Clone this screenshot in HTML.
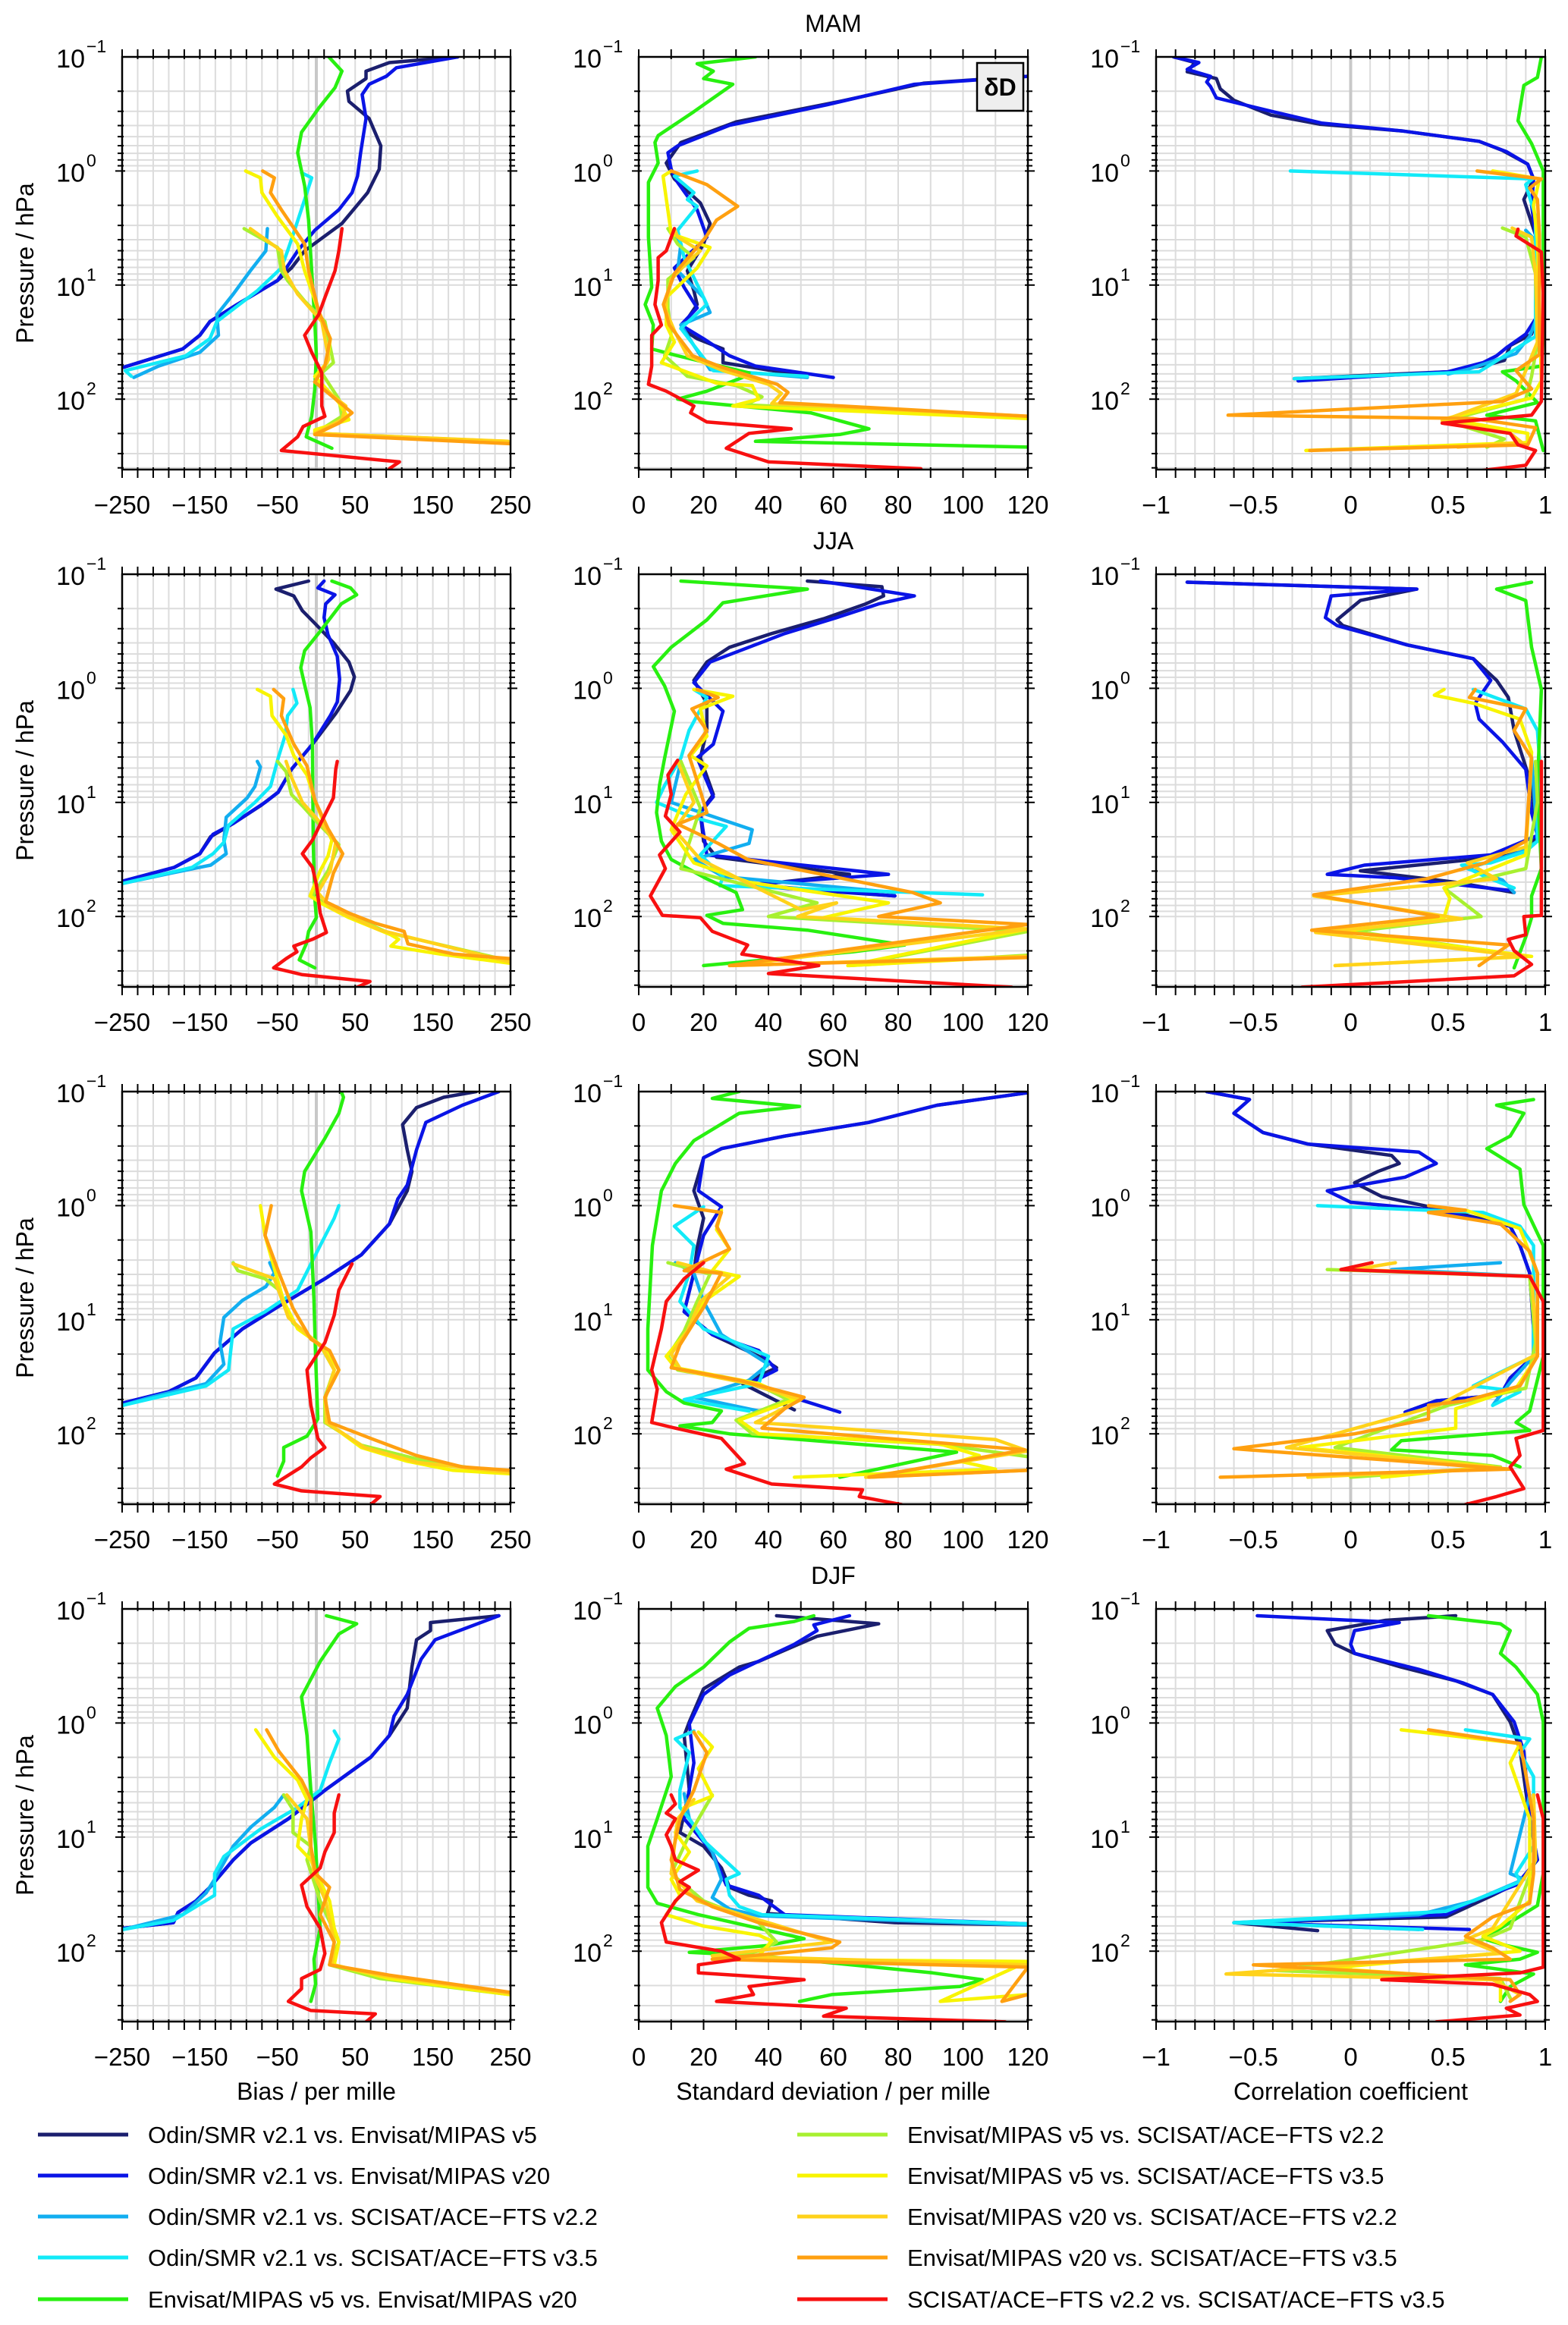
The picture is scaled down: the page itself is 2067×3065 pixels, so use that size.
<!DOCTYPE html>
<html><head><meta charset="utf-8"><title>δD seasonal comparison</title>
<style>
html,body{margin:0;padding:0;background:#fff;}
svg{display:block;font-family:"Liberation Sans",Arial,sans-serif;}
</style></head>
<body>
<svg id="fig" width="2067" height="3065" viewBox="0 0 2067 3065" xmlns="http://www.w3.org/2000/svg">
<g id="panels"></g>
<g id="legend"></g>
</svg>
<script>
// ---- series metadata ----
const seriesKeys = ['n','b','d','c','g','yg','y','go','o','r'];
const seriesLabels = ['Odin/SMR v2.1 vs. Envisat/MIPAS v5','Odin/SMR v2.1 vs. Envisat/MIPAS v20','Odin/SMR v2.1 vs. SCISAT/ACE\u2212FTS v2.2','Odin/SMR v2.1 vs. SCISAT/ACE\u2212FTS v3.5','Envisat/MIPAS v5 vs. Envisat/MIPAS v20','Envisat/MIPAS v5 vs. SCISAT/ACE\u2212FTS v2.2','Envisat/MIPAS v5 vs. SCISAT/ACE\u2212FTS v3.5','Envisat/MIPAS v20 vs. SCISAT/ACE\u2212FTS v2.2','Envisat/MIPAS v20 vs. SCISAT/ACE\u2212FTS v3.5','SCISAT/ACE\u2212FTS v2.2 vs. SCISAT/ACE\u2212FTS v3.5'];
const seriesColors = ['#1b1f6e','#0a14e6','#12aef0','#12eaf8','#28f010','#a8f030','#f8f400','#ffd21a','#ffa010','#f81010'];
const seasons = ['MAM','JJA','SON','DJF'];
const biasTicks = [-250,-150,-50,50,150,250];
const sdTicks = [0,20,40,60,80,100,120];
const corrTicks = [-1,-0.5,0,0.5,1];
const pressureDecades = [-1,0,1,2];

// ---- data: flat [log10(p/hPa), value, ...] ----
const MAM_BIAS = {
n:[-1,182,-.95,94,-.875,64,-.81,64,-.7,40,-.61,42,-.46,68,-.22,83,-.015,81,.19,66,.46,33,.70,-15,.85,-32,.96,-50,1.17,-102,1.32,-137,1.44,-150,1.56,-172,1.72,-248],
b:[-1,182,-.905,103,-.83,90,-.76,68,-.67,59,-.46,64,-.16,57,.045,53,.19,46,.34,29,.52,-2,.70,-24,.875,-41,.96,-50,1.17,-102,1.32,-137,1.44,-150,1.56,-172,1.72,-248],
d:[.505,-63,.70,-65,.875,-85,1.08,-107,1.26,-128,1.44,-126,1.59,-150,1.71,-203,1.81,-235],
c:[.015,-19,.06,-6,.25,-15,.52,-28,.70,-37,.85,-45,1.05,-76,1.32,-128,1.47,-137,1.62,-168,1.75,-246,1.80,-238],
g:[-1,16,-.875,33,-.73,24,-.55,3,-.34,-19,-.16,-24,.13,-15,.43,-10,.875,-6,1.32,-2,1.62,0,1.91,-2,2.15,-6,2.33,-13,2.43,20],
yg:[.505,-93,.67,-50,.875,-45,.96,-37,1.14,-15,1.32,11,1.68,22,1.77,7,2.0,29,2.15,33,2.3,-2,2.37,240],
y:[0,-91,.06,-72,.19,-70,.40,-50,.64,-24,.875,-15,1.23,3,1.47,18,1.68,14,1.80,-2,2.03,29,2.18,42,2.27,-2,2.31,-2,2.37,245],
go:[.505,-85,.70,-45,.875,-41,1.08,-24,1.32,7,1.65,16,1.85,-2,2.06,38,2.18,33,2.3,-2,2.37,247],
o:[0,-69,.06,-54,.19,-59,.34,-45,.64,-15,.875,-10,1.23,3,1.47,18,1.71,11,1.85,-2,2.12,46,2.21,29,2.31,-2,2.39,249],
r:[.505,33,.70,29,.875,24,1.11,11,1.26,3,1.44,-15,1.59,-6,1.77,7,2.06,7,2.15,11,2.24,-17,2.33,-24,2.45,-45,2.55,107,2.61,94]
};
const MAM_SD = {
n:[-.83,120,-.77,88,-.61,62,-.43,30,-.25,13,-.07,8.5,.07,11,.28,19,.46,22,.64,20,.875,15,1.05,17,1.17,18,1.38,13,1.47,18,1.56,26,1.68,26,1.80,52],
b:[-.83,120,-.76,85,-.58,58,-.40,28,-.22,12,-.16,9,-.015,10,.10,12,.34,18,.58,21,.85,11,1.02,14,1.20,18,1.35,13,1.47,20,1.62,28,1.71,36,1.81,60],
d:[.52,10,.64,13,.875,12,1.11,20,1.24,22,1.35,13,1.53,17,1.74,22,1.81,52],
c:[0,18,.045,11,.19,17,.25,15,.31,18,.52,12,.76,14,1.05,19,1.17,21,1.38,13,1.75,23,1.80,52],
g:[-1,36,-.94,18,-.875,23,-.81,20,-.76,29,-.52,17,-.31,6,-.25,5,-.07,6,.10,3,.58,3,1.02,4,1.17,2,1.35,4.5,1.56,4,1.62,12,1.77,34,1.81,32,1.93,21,2.0,12,2.02,16,2.12,53,2.26,71,2.31,62,2.37,36,2.42,120],
yg:[.505,9,.64,12,.76,17,.95,9,1.2,9,1.45,10,1.62,8,1.8,15,1.88,30,1.98,38,2.05,33,2.16,120],
y:[0,10,.045,7.5,.55,10,.67,22,.85,18,1.11,8.5,1.35,8.5,1.50,11,1.68,7,1.86,24,1.88,35,2.0,37,2.06,29,2.17,120],
go:[.505,11,.58,12,.70,19,.80,15,.95,10,1.2,8,1.4,11,1.62,15,1.75,26,1.87,40,1.95,44,2.04,41,2.15,120],
o:[0,10,.12,21,.31,30.5,.43,24,.58,20.7,.9,11,1.17,7.6,1.35,9.4,1.62,16.6,1.72,25.6,1.87,42.7,1.94,46,2.03,43.5,2.15,120],
r:[.505,11,.70,8.5,.76,6,.96,6,1.17,5,1.35,7,1.44,4,1.56,4,1.71,4,1.87,3,1.93,8.5,2.06,17,2.12,16,2.2,21,2.26,47,2.3,34,2.43,27,2.55,40,2.61,87]
};
const MAM_CORR = {
n:[-1,-.91,-.95,-.8,-.87,-.84,-.81,-.69,-.72,-.67,-.62,-.6,-.49,-.41,-.41,-.16,-.35,.27,-.26,.66,-.18,.78,-.06,.91,.07,.94,.25,.89,.56,.95,1.07,.96,1.27,.96,1.43,.93,1.53,.82,1.66,.79,1.7,.7,1.76,.5,1.82,-.29],
b:[-1,-.91,-.95,-.78,-.89,-.84,-.83,-.72,-.78,-.74,-.74,-.72,-.64,-.69,-.52,-.4,-.42,-.15,-.35,.27,-.26,.66,-.17,.80,-.06,.91,.07,.94,.3,.93,.56,.95,1.07,.96,1.27,.96,1.43,.9,1.55,.8,1.62,.75,1.68,.68,1.76,.5,1.84,-.27],
d:[.52,.9,.61,.95,1.0,.96,1.27,.96,1.45,.92,1.6,.85,1.74,.6,1.78,.5],
c:[0,-.31,.07,.935,.12,.9,.4,.95,1.07,.95,1.45,.95,1.76,.66,1.82,-.29],
g:[-1,.98,-.82,.96,-.75,.89,-.44,.86,-.24,.93,0,.99,1.45,.99,1.71,.98,1.76,.78,1.84,.85,2.03,.96,2.14,.7,2.19,.95,2.45,.99],
yg:[.5,.78,.58,.9,.9,.95,1.5,.96,1.8,.93,2.0,.9,2.19,.49,2.35,.79,2.42,.7],
y:[0,.73,.07,.97,.3,.94,.6,.96,1.2,.97,1.84,.98,1.99,.93,2.17,.49,2.3,.91,2.38,.91,2.45,-.23],
go:[.5,.83,.58,.93,.9,.95,1.5,.96,1.75,.9,1.95,.85,2.19,.47,2.3,.82,2.38,.88,2.42,.55],
o:[0,.65,.07,.98,.15,.92,.25,.96,.56,.97,1.61,.97,1.75,.85,1.91,.93,2.02,.78,2.14,-.63,2.17,.63,2.25,.95,2.4,.91,2.45,-.21],
r:[.51,.86,.57,.85,.71,.98,1.07,.99,2.02,.98,2.14,.93,2.21,.47,2.3,.82,2.4,.86,2.45,.95,2.58,.9,2.64,.6]
};
const JJA_BIAS = {
n:[-.94,-10,-.87,-52,-.81,-29,-.68,-18,-.57,-2,-.4,22,-.23,42,-.1,49,.02,44,.22,25,.49,-5,.71,-32,.91,-49,1.03,-72,1.18,-106,1.3,-136,1.45,-150,1.57,-183,1.69,-249],
b:[-.94,10,-.88,2,-.82,24,-.74,12,-.62,10,-.47,15,-.28,27,-.08,30,.12,27,.24,18,.49,-5,.71,-32,.91,-49,1.0,-66,1.18,-106,1.28,-133,1.45,-150,1.57,-183,1.69,-249],
d:[.64,-76,.69,-72,.86,-79,.96,-89,1.13,-116,1.33,-119,1.45,-116,1.55,-136,1.62,-187,1.71,-249],
c:[.01,-30,.13,-25,.24,-37,.41,-40,.61,-49,.86,-59,1.0,-79,1.2,-113,1.35,-119,1.45,-133,1.57,-160,1.71,-249],
g:[-.94,20,-.88,44,-.82,52,-.74,32,-.5,5,-.33,-15,-.18,-20,-.03,-15,.17,-8,.49,-5,1.35,-4,1.84,-2,2.01,0,2.13,-10,2.24,-13,2.38,-22,2.45,-2],
yg:[.64,-50,.73,-39,.93,-32,1.03,-18,1.18,2,1.37,29,1.6,15,1.82,-5,1.94,25,2.14,92,2.39,250],
y:[.01,-76,.07,-59,.24,-57,.41,-39,.59,-29,.76,-12,.98,-2,1.15,8,1.33,20,1.47,15,1.6,5,1.82,-8,1.89,8,2.01,42,2.16,96,2.2,106,2.26,96,2.33,160,2.41,250],
go:[.64,-39,.78,-32,1.0,-18,1.2,8,1.35,25,1.6,18,1.79,2,1.92,18,2.12,82,2.4,250],
o:[.01,-55,.09,-42,.24,-45,.49,-29,.68,-12,.98,-2,1.23,15,1.45,34,1.62,22,1.87,12,1.97,42,2.06,76,2.13,113,2.24,118,2.33,177,2.37,250],
r:[.64,27,.71,25,.96,22,1.15,8,1.33,-5,1.45,-18,1.57,-5,1.72,0,1.97,5,2.14,13,2.2,-5,2.26,-29,2.31,-25,2.37,-39,2.45,-55,2.51,-18,2.57,69,2.63,49]
};
const JJA_SD = {
n:[-.94,52,-.89,75,-.81,75.5,-.74,70,-.61,57,-.48,41,-.36,28,-.23,21,-.07,17,.13,21,.37,21,.61,19,.93,23,1.09,19,1.34,20,1.48,24,1.63,65,1.73,34,1.82,79],
b:[-.94,56,-.81,85,-.74,74,-.62,61,-.48,45,-.23,22,-.05,17,.2,26,.49,23,.61,18,.95,23,1.09,19,1.46,21,1.63,77,1.72,34,1.82,79],
d:[.64,13,1.0,10,1.24,35,1.36,34,1.5,17,1.65,26,1.79,79],
c:[.01,17,.08,21,.37,15.5,.61,13,.85,8,1.0,5.5,1.12,15.5,1.21,27,1.46,19,1.65,26,1.73,25,1.81,106],
g:[-.94,13,-.87,52,-.75,26,-.6,21,-.36,10,-.19,4.5,-.02,8,.2,11,.61,8,.85,6.4,1.09,5.5,1.34,7,1.5,10,1.67,21,1.79,30,1.94,32,1.99,21,2.06,26,2.12,52,2.25,82,2.31,66,2.43,20],
yg:[.64,13,1.05,19,1.58,13,1.88,55,2.0,40,2.13,120,2.43,65,2.34,120],
y:[.01,17,.07,29,.18,19,.42,21,.59,16,.68,21,.93,14.5,1.24,10,1.53,17,1.7,34,1.88,77,2.01,57,2.11,120,2.43,64.5,2.35,119],
go:[.64,12,1.0,17,1.24,11,1.5,19,1.94,50,1.88,61,2.0,49,2.11,120,2.43,29,2.35,120],
o:[.01,18,.08,24.5,.18,16.4,.37,21,.59,15.5,.9,19,1.09,21,1.19,12,1.36,24.5,1.5,33.6,1.79,84.5,1.88,93,2.0,74,2.07,120,2.43,28,2.36,120],
r:[.63,12,.76,9,.93,10,1.12,8.2,1.26,12.7,1.46,6.4,1.58,8.2,1.82,3.6,1.99,7.3,2.01,19,2.13,22.7,2.25,33.6,2.33,31.8,2.43,55.5,2.5,40,2.62,115]
};
const JJA_CORR = {
n:[-.93,-.84,-.87,.34,-.77,.05,-.6,-.07,-.55,-.04,-.38,.29,-.26,.63,-.07,.75,.08,.81,.37,.84,.85,.93,1.29,.96,1.43,.9,1.5,.63,1.6,.05,1.7,.54,1.79,.84],
b:[-.93,-.84,-.87,.34,-.81,-.1,-.62,-.13,-.55,-.07,-.38,.29,-.26,.63,-.07,.72,.13,.64,.27,.66,.47,.78,.71,.9,1.09,.93,1.29,.96,1.46,.72,1.55,.07,1.63,-.12,1.66,.23,1.77,.81],
d:[.61,.93,1.34,.96,1.43,.88,1.58,.6,1.68,.78,1.79,.84],
c:[.01,.63,.18,.9,.37,.96,.61,.97,1.34,.96,1.43,.9,1.53,.72,1.55,.57,1.65,.69,1.75,.84],
g:[-.93,.93,-.87,.75,-.77,.9,-.36,.93,.01,.98,.85,.96,1.58,.98,1.82,.93,2.01,.93,2.18,.9,2.45,.84],
yg:[.64,.95,1.0,.96,1.58,.9,1.75,.48,2.0,.67,2.13,.02,2.34,.87],
y:[.01,.48,.06,.43,.13,.63,.27,.87,.56,.93,1.46,.9,1.75,.48,1.84,.51,2.01,.48,2.13,-.04,2.35,.93,2.43,-.08],
go:[.64,.93,1.39,.9,1.53,.6,1.67,.75,1.82,-.19,2.02,.57,2.14,-.18,2.35,.9,2.43,-.08],
o:[.01,.64,.08,.61,.18,.9,.37,.84,.61,.93,1.34,.9,1.53,.69,1.67,.39,1.81,-.19,2.0,.45,2.12,-.2,2.25,.81,2.43,.66],
r:[.64,.98,1.99,.98,2.0,.89,2.16,.9,2.2,.81,2.3,.84,2.42,.93,2.52,.84,2.62,-.25]
};
const SON_BIAS = {
n:[-1,206,-.95,164,-.86,129,-.71,111,-.49,117,-.3,123,-.13,117,.16,94,.43,58,.64,11,.88,-48,1.08,-95,1.29,-131,1.51,-155,1.63,-190,1.73,-249],
b:[-1,235,-.88,188,-.73,141,-.49,129,-.18,117,-.06,105,.16,94,.43,58,.64,11,.88,-48,1.08,-95,1.29,-131,1.51,-155,1.63,-190,1.73,-249],
d:[.5,-60,.59,-54,.71,-65,.83,-95,.98,-119,1.2,-124,1.39,-119,1.56,-142,1.68,-213,1.75,-249],
c:[0,29,.11,23,.35,5,.74,-24,.93,-66,1.08,-107,1.44,-113,1.58,-142,1.75,-249],
g:[-1,32,-.95,35,-.81,29,-.59,11,-.3,-15,-.13,-19,.23,-7,.83,-3,1.32,-1,1.87,2,2.02,-12,2.12,-42,2.24,-42,2.37,-50],
yg:[.5,-107,.57,-101,.64,-66,.74,-48,1.03,-30,1.22,5,1.44,23,1.68,11,1.9,11,2.1,58,2.24,141,2.35,249],
y:[0,-72,.26,-66,.55,-54,.84,-42,1.08,-24,1.25,11,1.44,29,1.68,11,1.9,14,2.12,58,2.24,117,2.32,176,2.35,249],
go:[.51,-107,.64,-54,.98,-36,1.25,8,1.44,23,1.68,12,1.9,13,2.12,62,2.25,130,2.34,249],
o:[0,-58,.26,-66,.59,-48,.9,-30,1.17,-7,1.27,17,1.44,29,1.68,11,1.9,17,2.04,70,2.19,129,2.29,188,2.32,249],
r:[.51,46,.59,40,.74,29,.96,23,1.2,11,1.44,-12,1.75,-7,2.04,2,2.12,11,2.21,-7,2.29,-19,2.44,-54,2.5,-19,2.55,82,2.62,70]
};
const SON_SD = {
n:[-.99,120,-.88,92,-.73,71,-.61,45,-.5,25.5,-.42,20,-.13,17,.11,20,.37,18,.59,17,.93,14,1.13,22.7,1.32,37,1.42,42.5,1.56,32,1.79,48],
b:[-.99,120,-.88,92,-.73,71,-.61,45,-.5,25.5,-.42,20,-.13,18.4,.01,25.5,.26,20,.59,17,.93,14,1.13,22.7,1.27,37,1.44,42.5,1.56,34,1.81,62],
d:[.5,11.3,.59,17,.84,20,1.13,25.5,1.39,40,1.53,34,1.68,17,1.8,37],
c:[.01,20,.18,11,.35,17,.59,15.6,.84,12.7,1.08,20,1.32,40,1.56,37,1.7,14,1.8,34],
g:[-1,31,-.94,22.7,-.87,49.6,-.81,31,-.57,17,-.37,11.3,-.13,7,.35,4.2,1.08,2.8,1.44,2.8,1.63,8.5,1.73,14,1.8,25.5,1.9,22.7,1.93,12.7,2.0,28,2.16,98,2.38,62],
yg:[.5,9,.6,22,.84,18,1.1,14,1.32,9,1.44,12,1.56,36,1.7,46,1.88,30,2.0,35,2.09,92,2.2,120],
y:[.04,25.5,.21,24,.38,28,.57,22.7,.62,31,.84,20,1.08,15.6,1.32,8.5,1.42,11.3,1.56,37,1.7,48,1.88,31,2.0,37,2.09,93,2.19,105,2.24,99,2.31,110,2.38,48],
go:[.5,12,.62,28,.84,19,1.1,15,1.3,10,1.44,13,1.56,34,1.7,50,1.9,36,2.05,110,2.15,120,2.38,70,2.32,120],
o:[0,11,.06,25.5,.18,24,.38,28,.57,14,.59,25.5,.89,20,1.22,12.7,1.42,10,1.53,31,1.68,51,1.78,45,1.95,38,2.14,119,2.38,71,2.32,120],
r:[.5,20,.64,14,.84,8.5,1.08,7,1.44,4,1.61,5.7,1.9,4,1.95,11.3,2.04,25.5,2.26,32.6,2.31,27,2.44,41,2.49,69,2.55,68,2.62,81]
};
const SON_CORR = {
n:[-1,-.74,-.93,-.52,-.81,-.6,-.64,-.45,-.54,-.22,-.44,.21,-.37,.25,-.3,.14,-.2,.02,-.08,.16,.06,.54,.18,.82,.35,.87,.59,.92,1.08,.94,1.32,.94,1.51,.82,1.66,.77,1.71,.44,1.81,.28],
b:[-1,-.74,-.93,-.52,-.81,-.6,-.64,-.45,-.54,-.22,-.47,.35,-.37,.44,-.25,.28,-.13,-.12,-.03,0,.04,.44,.18,.82,.35,.87,.59,.92,1.08,.94,1.32,.94,1.51,.82,1.66,.77,1.71,.44,1.81,.28],
d:[.5,.77,.56,.21,.62,.94,1.32,.94,1.55,.82,1.75,.73],
c:[0,-.17,.06,.68,.18,.87,.35,.94,1.32,.94,1.46,.77,1.58,.63,1.63,.87,1.75,.73],
g:[-.93,.94,-.88,.75,-.81,.89,-.61,.82,-.5,.7,-.32,.87,-.01,.89,.35,.99,1.32,.99,1.8,.92,1.9,.85,1.97,.92,2.06,.26,2.14,.21,2.19,.73,2.29,.87],
yg:[.56,-.12,.62,.92,1.2,.95,1.6,.9,1.75,.5,2.12,-.08,2.29,.77,2.38,0],
y:[.04,.59,.2,.87,.59,.96,1.32,.96,1.6,.85,1.78,.54,1.95,.54,2.12,-.26,2.29,.73,2.38,.16],
go:[.5,.23,.56,.02,.62,.93,1.3,.96,1.75,.45,2.12,-.33,2.3,.77,2.38,-.22],
o:[0,.4,.04,.59,.06,.4,.16,.77,.4,.92,.59,.96,1.32,.96,1.58,.87,1.71,.59,1.75,.4,1.87,.4,2.0,.02,2.13,-.6,2.31,.82,2.38,-.67],
r:[.5,.11,.56,-.05,.62,.92,.84,.99,1.97,.99,2.04,.85,2.19,.87,2.29,.82,2.48,.89,2.55,.75,2.62,.59]
};
const DJF_BIAS = {
n:[-.94,235,-.88,147,-.81,147,-.73,129,-.49,123,-.13,117,.11,94,.3,70,.59,11,.84,-36,1.05,-84,1.2,-107,1.44,-137,1.56,-155,1.66,-178,1.75,-184,1.8,-249],
b:[-.94,235,-.82,188,-.73,153,-.56,135,-.25,117,-.06,100,.11,94,.3,70,.59,11,.84,-36,1.05,-84,1.2,-107,1.44,-137,1.56,-155,1.66,-178,1.75,-184,1.8,-249],
d:[.63,-42,.74,-54,.91,-84,1.08,-107,1.37,-131,1.49,-142,1.68,-172,1.81,-249],
c:[.07,23,.14,29,.35,17,.59,5,.74,-24,.93,-72,1.17,-119,1.32,-131,1.51,-131,1.73,-184,1.81,-249],
g:[-.94,13,-.87,52,-.78,29,-.54,5,-.23,-19,.11,-12,.59,-7,1.08,-1,1.8,5,2.07,-3,2.29,-1,2.44,-7],
yg:[.63,-42,.76,-30,.96,-30,1.08,-7,1.2,-12,1.56,5,1.92,29,2.12,17,2.24,82,2.38,249],
y:[.06,-78,.3,-54,.5,-24,.67,-12,.84,-19,1.08,-24,1.2,-7,1.39,5,1.56,17,1.8,23,1.92,29,2.12,23,2.24,94,2.38,249],
go:[.63,-38,.84,-12,1.32,-3,1.56,12,1.92,23,2.12,20,2.21,82,2.37,249],
o:[.06,-64,.25,-48,.5,-19,.67,-7,1.08,-7,1.32,-1,1.44,17,1.68,5,1.92,23,2.12,17,2.21,94,2.36,249],
r:[.63,29,.79,23,.96,23,1.13,11,1.27,5,1.42,-19,1.61,-12,1.8,5,2.02,11,2.16,5,2.24,-19,2.33,-19,2.44,-36,2.52,-7,2.55,76,2.62,64]
};
const DJF_SD = {
n:[-.94,42.5,-.87,74,-.76,55,-.54,37,-.49,31,-.3,20,-.01,15.6,.11,14,.59,15.6,.96,12.7,1.08,20,1.27,25.5,1.44,28,1.51,34,1.56,41,1.67,39.7,1.68,45,1.75,79,1.77,120],
b:[-.94,65,-.86,54,-.81,55,-.69,48,-.42,28,-.25,20,.01,15.6,.35,17,.84,14,1.13,22.7,1.42,27,1.51,37,1.68,45,1.76,120],
d:[.62,14,.84,15.6,1.13,22.7,1.37,25.5,1.53,22.7,1.63,28,1.69,37,1.77,120],
c:[.07,17,.14,11.3,.26,15.6,.59,12.7,.74,12.7,.84,15.6,1.03,20,1.32,31,1.37,27,1.51,28,1.61,31,1.68,38,1.76,120],
g:[-.94,54,-.89,48,-.83,34,-.71,28,-.49,20,-.32,11.3,-.13,5.7,.11,8.5,.47,10,.84,5.7,1.08,2.8,1.44,2.8,1.58,5.7,1.68,18.4,1.8,37,1.89,51,1.95,39.7,2.01,15.6,2.04,37,2.19,90.6,2.25,106,2.31,99,2.38,59.5,2.44,49.6],
yg:[.63,22.7,.98,15.6,1.32,10,1.56,20,1.75,37,1.92,42.5,2.0,37,2.07,22.7,2.12,120],
y:[.08,18.4,.21,22.7,.4,18.4,.64,22.7,.74,14,.96,11.3,1.13,15.6,1.37,10,1.51,12.7,1.68,8.5,1.78,20,1.86,37,1.91,41,2.04,37,2.07,22.7,2.09,120,2.44,93,2.38,120],
go:[.67,17,.84,12,1.32,10,1.56,18,1.92,59.5,2.04,22.7,2.12,120],
o:[.08,17,.26,21,.59,17,.84,12.7,1.2,10,1.46,12.7,1.61,22.7,1.75,37,1.92,62,1.97,59.5,2.02,42.5,2.07,22.7,2.14,120,2.44,112,2.38,120],
r:[.63,10,.71,11.3,.79,8.5,.84,11.3,.98,8.5,1.08,10,1.2,11.3,1.29,18.4,1.39,12.7,1.44,15.6,1.56,11.3,1.75,7,1.92,8.5,2.0,25.5,2.07,31,2.12,18.4,2.19,18.4,2.25,51,2.31,34,2.38,35.4,2.44,24,2.5,64,2.57,57,2.62,113]
};
const DJF_CORR = {
n:[-.94,.54,-.9,.18,-.81,-.12,-.69,-.08,-.61,.02,-.49,.26,-.37,.54,-.25,.73,-.01,.82,.23,.87,.84,.92,1.2,.96,1.39,.87,1.51,.73,1.7,.49,1.75,-.6,1.82,-.17],
b:[-.94,-.48,-.88,.25,-.81,.02,-.69,0,-.61,.02,-.47,.35,-.35,.58,-.25,.73,-.01,.84,.25,.89,.84,.92,1.2,.96,1.42,.85,1.56,.63,1.68,.49,1.75,-.55,1.81,.61],
d:[.63,.92,1.32,.82,1.37,.89,1.56,.63,1.68,.35,1.75,-.6,1.81,.35],
c:[.06,.59,.14,.92,.26,.87,.47,.94,1.08,.94,1.32,.85,1.39,.87,1.49,.73,1.65,.49,1.75,-.6,1.81,.37],
g:[-.94,.4,-.87,.77,-.81,.82,-.61,.77,-.49,.85,-.25,.96,-.01,.99,1.32,.99,1.6,.96,1.8,.77,1.89,.68,1.95,.8,2.01,.96,2.07,.87,2.12,.59,2.15,.73,2.2,.94,2.31,.82,2.44,.77],
yg:[.63,.94,1.2,.95,1.8,.82,1.9,.68,2.17,-.38,2.24,.77,2.41,.82],
y:[.06,.26,.18,.87,.35,.82,.84,.92,1.56,.92,1.78,.77,1.87,.68,2.0,.87,2.15,-.12,2.25,.77,2.43,.77],
go:[.63,.94,1.2,.95,1.8,.73,1.9,.59,2.02,.77,2.2,-.64,2.25,.73,2.38,.87],
o:[.06,.4,.18,.87,.35,.89,.84,.94,1.32,.94,1.58,.92,1.7,.73,1.87,.59,1.97,.73,2.07,.82,2.12,-.5,2.25,.82,2.38,.87,2.44,.82],
r:[.63,.96,.84,.99,2.14,.99,2.19,.87,2.25,.16,2.29,.73,2.38,.92,2.44,.96,2.5,.8,2.56,.87,2.62,.44]
};
const PANEL_DATA = [[MAM_BIAS,MAM_SD,MAM_CORR],[JJA_BIAS,JJA_SD,JJA_CORR],[SON_BIAS,SON_SD,SON_CORR],[DJF_BIAS,DJF_SD,DJF_CORR]];

// ---- layout ----
const NS='http://www.w3.org/2000/svg';
const ROW_TOP=[75,757,1439,2121], DEC=150.4, PH=544, LPMIN=-1, LPMAX=-1+544/150.4;
const COLS=[
 {x0:161,x1:673,min:-250,max:250,step:20,ticks:biasTicks,zero:true,name:'bias'},
 {x0:842,x1:1355,min:0,max:120,step:10,ticks:sdTicks,zero:false,name:'sd'},
 {x0:1524,x1:2037,min:-1,max:1,step:0.1,ticks:corrTicks,zero:true,name:'corr'}];
const colTitles=['Bias / per mille','Standard deviation / per mille','Correlation coefficient'];
function el(tag,attrs,parent){const e=document.createElementNS(NS,tag);for(const k in attrs)e.setAttribute(k,attrs[k]);if(parent)parent.appendChild(e);return e;}
function fmt(v){return (v<0?'\u2212':'')+Math.abs(v);}
const root=document.getElementById('panels');
const defs=el('defs',{},root);

ROW_TOP.forEach((top,ri)=>{
 const yOf=lp=>top+(lp-LPMIN)*DEC;
 const bottom=top+PH;
 COLS.forEach((col,ci)=>{
  const xOf=v=>col.x0+(v-col.min)/(col.max-col.min)*(col.x1-col.x0);
  const g=el('g',{},root);
  
  
  const cid='clip'+ri+ci;
  const cp=el('clipPath',{id:cid},defs);
  el('rect',{x:col.x0,y:top,width:col.x1-col.x0,height:PH},cp);
  const n=Math.round((col.max-col.min)/col.step);
  for(let k=1;k<n;k++){const x=xOf(col.min+k*col.step);
   const l=el('line',{x1:x,x2:x,y1:top,y2:bottom,stroke:'#dcdcdc','stroke-width':2},g);
   }
  for(let d=-1;d<=2;d++)for(let k=1;k<=9;k++){const lp=d+Math.log10(k);if(lp<=LPMIN+1e-6||lp>=LPMAX)continue;
   const y=yOf(lp);
   const l=el('line',{x1:col.x0,x2:col.x1,y1:y,y2:y,stroke:'#dcdcdc','stroke-width':2},g);
   
   const big=(k===1);
   el('line',{x1:col.x0-(big?9:6),x2:col.x0+(big?4:2),y1:y,y2:y,stroke:'#000','stroke-width':2},g);
   el('line',{x1:col.x1-(big?4:2),x2:col.x1+(big?9:6),y1:y,y2:y,stroke:'#000','stroke-width':2},g);}
  if(col.zero){const x=xOf(0);const z=el('line',{x1:x,x2:x,y1:top,y2:bottom,stroke:'#c8c8c8','stroke-width':4},g);
   }
  for(let k=0;k<=n;k++){const x=xOf(col.min+k*col.step);
   el('line',{x1:x,x2:x,y1:top-10,y2:top+3,stroke:'#000','stroke-width':2},g);
   el('line',{x1:x,x2:x,y1:bottom-3,y2:bottom+11,stroke:'#000','stroke-width':2},g);}
  const data=PANEL_DATA[ri][ci];
  const sg=el('g',{'clip-path':'url(#'+cid+')'},g);
  seriesKeys.forEach((key,si)=>{const arr=data[key];if(!arr)return;
   let pts=[];for(let i=0;i<arr.length;i+=2)pts.push(xOf(arr[i+1]).toFixed(1)+','+yOf(arr[i]).toFixed(1));
   const pl=el('polyline',{points:pts.join(' '),fill:'none',stroke:seriesColors[si],'stroke-width':4.5,'stroke-linejoin':'round','stroke-linecap':'round'},sg);
   
   });
  const fr=el('rect',{x:col.x0,y:top,width:col.x1-col.x0,height:PH,fill:'none',stroke:'#000','stroke-width':2.5},g);
  
  col.ticks.forEach(v=>{const t=el('text',{x:xOf(v),y:bottom+58,'text-anchor':'middle','font-size':33},g);t.textContent=fmt(v);
   });
  pressureDecades.forEach(d=>{const y=yOf(d);
   const t=el('text',{x:col.x0-49,y:y+14,'text-anchor':'end','font-size':34},g);t.textContent='10';
   
   const s=el('text',{x:col.x0-47,y:y-6,'text-anchor':'start','font-size':23},g);s.textContent=fmt(d);
   });
  if(ci===0){const yl=el('text',{x:0,y:0,'text-anchor':'middle','font-size':32,transform:'translate(44,'+(top+PH/2)+') rotate(-90)'},g);
   yl.textContent='Pressure / hPa';}
  if(ci===1){const tt=el('text',{x:(col.x0+col.x1)/2,y:top-33,'text-anchor':'middle','font-size':32},g);
   tt.textContent=seasons[ri];}
  if(ri===3){const xl=el('text',{x:(col.x0+col.x1)/2,y:2768,'text-anchor':'middle','font-size':32},g);
   xl.textContent=colTitles[ci];}
  if(ri===0&&ci===1){const bx=el('g',{},g);
   el('rect',{x:1288,y:83,width:61,height:63,fill:'#eeeeee',stroke:'#000','stroke-width':2.5},bx);
   const dt=el('text',{x:1318.5,y:126,'text-anchor':'middle','font-size':32,'font-weight':'bold'},bx);dt.textContent='\u03b4D';}
 });
});

const lg=document.getElementById('legend');
const legY=[2814,2868,2922,2976,3031];
seriesKeys.forEach((key,si)=>{const col=si<5?0:1;const row=si%5;
 const x0=col?1051:50, tx=col?1196:195, y=legY[row];
 const g=el('g',{},lg);
 
 
 el('line',{x1:x0,x2:x0+119,y1:y,y2:y,stroke:seriesColors[si],'stroke-width':5},g);
 const t=el('text',{x:tx,y:y+11,'font-size':31},g);t.textContent=seriesLabels[si];});
</script>
</body></html>
